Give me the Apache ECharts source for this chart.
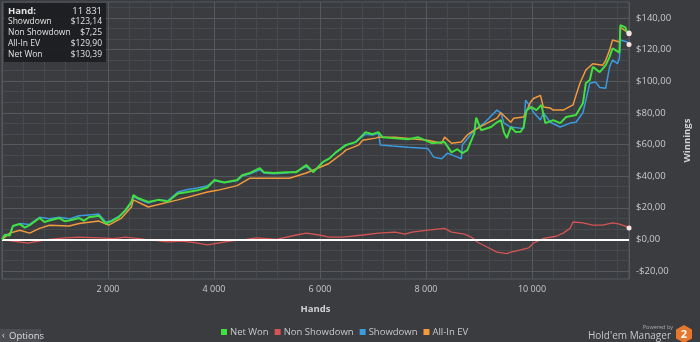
<!DOCTYPE html>
<html><head><meta charset="utf-8">
<script src="https://cdn.jsdelivr.net/npm/echarts@6/dist/echarts.min.js"></script>
<style>html,body{margin:0;padding:0;background:#3a3c40;}#c{width:700px;height:342px;}</style>
</head><body><div id="c"></div>
<script>
const legendNames = ['Net Won', 'Non Showdown', 'Showdown', 'All-In EV'];
const summaryLabels = ['Hand:', 'Showdown', 'Non Showdown', 'All-In EV', 'Net Won'];
const summaryValues = ['11 831', '$123,14', '$7,25', '$129,90', '$130,39'];

const netWonHands = [0,56,149,205,335,430,522,708,800,895,1081,1180,1268,1454,1550,1640,1827,1957,2069,2200,2330,2442,2479,2572,2759,2945,3132,3318,3504,3691,3877,4008,4194,4436,4530,4679,4865,4940,5126,5368,5555,5741,5872,6058,6170,6300,6487,6673,6860,6990,7102,7176,7363,7661,7847,8108,8351,8481,8593,8686,8779,8910,8947,9040,9227,9339,9413,9470,9525,9600,9693,9786,9842,9898,9991,10084,10177,10252,10401,10532,10644,10830,10960,11016,11091,11147,11277,11389,11464,11520,11575,11650,11668,11762,11799,11831];
const netWonValues = [0,3,2.5,8.5,9.7,7.5,9,13.5,11,12,13.5,11.5,12,13.5,11.8,14,15,10,11.6,14,18.5,23.7,28,26,23.7,25,24,29,30,31,33,37.5,36,37.5,40.6,42,45,42.5,42,42.5,42.5,47,42.5,49,51,55,59.6,61.5,67.8,66.5,67.8,64.6,64,63.3,64.6,60.8,61.5,55,57,54.5,56.4,67,77,69,71,74,75.4,67.8,64,71,67.8,68,71,81.7,83.6,81.7,85,73.5,75.4,73.5,77.3,78.6,86,98.7,100.7,109,105.7,110,115.3,120.8,119.6,118,135.4,134,130.2,130.39];

const allInHands = [0,149,335,522,708,895,1268,1454,1827,2013,2255,2442,2479,2759,3318,3877,4064,4436,4679,4940,5424,5741,6170,6431,6487,6729,6804,7046,7102,7419,8034,8295,8351,8481,8667,8779,8910,9152,9339,9413,9600,9655,9842,9972,10028,10159,10214,10345,10401,10588,10774,10830,10904,11016,11147,11333,11389,11464,11520,11650,11668,11799,11831];
const allInValues = [0,4,5.8,4,7,9,8.5,10,11.6,9,13.5,20.5,25,20.5,25,30,31,34,38.7,38.7,38.7,42,48,54.6,56.4,59.6,62.7,64,64.6,64.6,62.7,60.8,64.6,60.8,61.5,66,69,73.5,76.6,80,74,76.6,77.3,86.7,89,91,83.6,83,81.7,81.7,85,91,98.7,107,111,110,113,119.6,126,124.7,134,131,129.9];

const showdownHands = [0,56,149,205,335,522,708,895,1081,1268,1454,1640,1827,1957,2069,2200,2330,2442,2479,2572,2759,2945,3132,3318,3504,3691,3877,4008,4194,4436,4530,4679,4865,4940,5126,5368,5555,5741,5872,6058,6170,6300,6487,6673,6860,6990,7102,7139,7363,7661,8034,8145,8295,8407,8593,8667,8686,8910,9096,9339,9413,9470,9600,9842,9879,9972,10028,10159,10214,10345,10532,10718,10830,10960,11016,11091,11203,11277,11389,11464,11520,11612,11650,11668,11799,11831];
const showdownValues = [0,3,3.5,8.5,10,9.5,14,13,14,13,15,15.5,16,11,12,14.5,18,23,27,25.5,23,25,24.5,30,31.5,32.5,34,37,36,37,40,41.5,44,42,41.5,42,43,46,42.5,49,51,55,59.6,61.5,66.5,66,67,59.6,59,58.3,57.5,52,51,54.5,52,51,59.6,69,73.5,81.7,80,73.5,71,70,88,83.6,80.4,75.4,80,74,71,73.5,74,80,88,98.7,99.4,96,95.5,109,113.4,111,114.6,126,124.7,123.14];

const nonShowdownHands = [0,205,485,700,895,1200,1454,1827,2100,2330,2702,3132,3400,3691,3877,4306,4600,4809,5182,5555,5741,5984,6170,6431,6804,7102,7419,7605,7736,8034,8351,8481,8723,8854,8966,9152,9339,9525,9600,9786,9935,10028,10214,10457,10588,10718,10774,10960,11147,11333,11520,11650,11762,11831];
const nonShowdownValues = [0,-1,-2.3,-1,0,1,1.5,1,0.5,1.5,0,-1.6,-1,-2.3,-3.5,-1,0,1,0,2.8,4,2.8,1.5,1.5,2.8,4,4.6,3.4,4.6,5.9,7,4.6,3.4,1.5,-1.6,-4.8,-8,-9,-8,-6.6,-5.4,-2.3,0.6,2,4,7,11,10.4,9,9,10.4,9.7,8.4,7.25];

const colors = {net:'#3fe03f', non:'#d65454', sd:'#3b9ae0', ev:'#f29a3c'};
const FONT = 'Open Sans';
const MAJOR = '#55585c', MINOR = '#46494d', NONE = 'rgba(0,0,0,0)';

function toData(h, v) {
  return h.map((x, i) => {
    if (i === h.length - 1) {
      return {value: [x, v[i]], symbol: 'circle', symbolSize: 5, itemStyle: {color: '#f5e1e1'}};
    }
    return [x, v[i]];
  });
}
function mk(name, h, v, color, width, z, extra) {
  return Object.assign({
    name, type: 'line', data: toData(h, v), z,
    showSymbol: true, showAllSymbol: true, symbolSize: 0, symbol: 'none',
    lineStyle: {color, width}, itemStyle: {color},
    animation: false, silent: true
  }, extra || {});
}
const near = (a, b) => Math.abs(a - b) < 1e-6;
const money = v => {
  const r = Math.round(v);
  if (!near(v, r) || r % 20 !== 0 || r < -20 || r > 140) return '';
  return (r < 0 ? '-' : '') + '$' + Math.abs(r).toFixed(2).replace('.', ',');
};
const thousands = v => {
  const r = Math.round(v);
  if (r <= 0 || r % 2000 !== 0) return '';
  return String(r).replace(/\B(?=(\d{3})+(?!\d))/g, ' ');
};

// y: ticks every 5/3 from -25; period 12 -> index 3 major (multiples of 20), 7 & 11 minor
const yLineColors = [NONE,NONE,NONE,MAJOR,NONE,NONE,NONE,MINOR,NONE,NONE,NONE,MINOR];
// x: ticks every 400 from 0; every 5th is a multiple of 2000
const xLineColors = [MAJOR,MINOR,MINOR,MINOR,MINOR];

const chart = echarts.init(document.getElementById('c'), null, {renderer: 'canvas'});
const graphics = [
  {type:'rect', shape:{x:4, y:3, width:102, height:59}, style:{fill:'rgba(28,29,31,0.92)'}, z:100},
  {type:'rect', shape:{x:0, y:329, width:41, height:13}, style:{fill:'#4b4d52'}, z:100},
  {type:'text', x:2, y:335.5, style:{text:'‹', fill:'#d8d8d8', font:'9px '+FONT, verticalAlign:'middle'}, z:101},
  {type:'text', x:9, y:336, style:{text:'Options', fill:'#dcdcdc', font:'9.5px '+FONT, verticalAlign:'middle'}, z:101},
  {type:'text', x:673, y:327, style:{text:'Powered by', fill:'#aaaaaa', font:'5.5px '+FONT, align:'right', verticalAlign:'middle'}, z:101},
  {type:'text', x:671, y:336.5, style:{text:"Hold'em Manager", fill:'#c6c6c6', font:'10px '+FONT, align:'right', verticalAlign:'middle'}, z:101},
  {type:'polygon', shape:{points:[[684,325],[692,329.5],[692,338.5],[684,343],[676,338.5],[676,329.5]]}, style:{fill:'#e8772e'}, z:101},
  {type:'text', x:684, y:334.5, style:{text:'2', fill:'#ffffff', font:'bold 11px '+FONT, align:'center', verticalAlign:'middle'}, z:102}
];
summaryLabels.forEach((lab, i) => {
  const y = 11 + i * 11;
  graphics.push({type:'text', x:8, y, style:{text:lab, fill:'#e2e2e2', font:(i===0?'bold 9.5px ':'8.5px ')+FONT, verticalAlign:'middle'}, z:101});
  graphics.push({type:'text', x:102, y, style:{text:summaryValues[i], fill:'#e2e2e2', font:(i===0?'9.5px ':'8.5px ')+FONT, align:'right', verticalAlign:'middle'}, z:101});
});

chart.setOption({
  backgroundColor: '#3a3c40',
  animation: false,
  textStyle: {fontFamily: FONT},
  grid: {left: 2, right: 63, top: 2, bottom: 63, show: true, borderColor: MAJOR, borderWidth: 1},
  legend: {
    data: legendNames, bottom: 0, left: 216, itemWidth: 6, itemHeight: 6, itemGap: 6,
    icon: 'rect', textStyle: {color: '#c8c9cb', fontSize: 9.5, fontFamily: FONT, padding: [0,0,0,-2]},
    selectedMode: false
  },
  xAxis: {
    type: 'value', min: 0, max: 11831, interval: 400,
    name: 'Hands', nameLocation: 'middle', nameGap: 25,
    nameTextStyle: {color: '#d0d1d3', fontSize: 9.5, fontWeight: 'bold', fontFamily: FONT},
    axisLine: {show: false}, axisTick: {show: false},
    axisLabel: {color: '#c8c9cb', fontSize: 9, fontFamily: FONT, interval: 0, showMinLabel: false, showMaxLabel: false, hideOverlap: false, margin: 6, formatter: thousands},
    splitLine: {show: true, lineStyle: {color: xLineColors, width: 1}}
  },
  yAxis: {
    type: 'value', position: 'right', min: -25, max: 150, interval: 5 / 3,
    name: 'Winnings', nameLocation: 'middle', nameGap: 50, nameRotate: 90,
    nameTextStyle: {color: '#d0d1d3', fontSize: 9.5, fontWeight: 'bold', fontFamily: FONT},
    axisLine: {show: false}, axisTick: {show: false},
    axisLabel: {color: '#c8c9cb', fontSize: 9.5, fontFamily: FONT, interval: 0, hideOverlap: false, margin: 7, showMinLabel: false, showMaxLabel: false, formatter: money},
    splitLine: {show: true, lineStyle: {color: yLineColors, width: 1}}
  },
  graphic: graphics,
  series: [
    mk('Non Showdown', nonShowdownHands, nonShowdownValues, colors.non, 1.3, 2, {
      markLine: {silent: true, symbol: 'none', label: {show: false}, animation: false,
        lineStyle: {color: '#ffffff', width: 2, type: 'solid'}, data: [{yAxis: 0}]}
    }),
    mk('Showdown', showdownHands, showdownValues, colors.sd, 1.5, 3),
    mk('All-In EV', allInHands, allInValues, colors.ev, 1.5, 4),
    mk('Net Won', netWonHands, netWonValues, colors.net, 2, 5)
  ]
});
</script></body></html>
